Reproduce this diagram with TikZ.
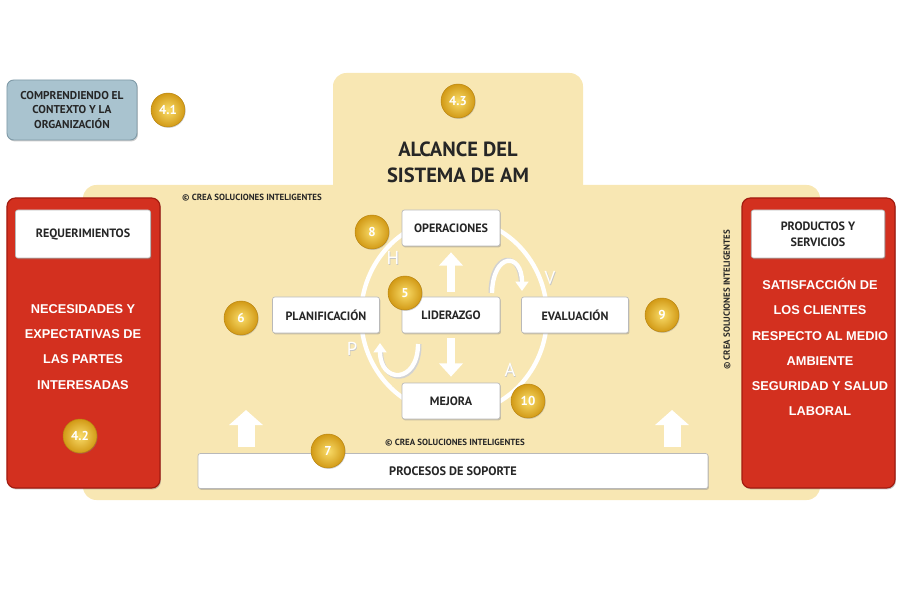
\documentclass[tikz,border=0pt]{standalone}
\usepackage{fontspec}
\setmainfont{PT Sans}
\newfontfamily\arialf{Liberation Sans}
\usetikzlibrary{shadows,arrows.meta}
\definecolor{beige}{HTML}{F8E7B3}
\definecolor{redbox}{HTML}{D3301F}
\definecolor{redline}{HTML}{A21C10}
\definecolor{bluebox}{HTML}{A9C3CF}
\definecolor{blueline}{HTML}{7F9AA7}
\definecolor{goldin}{HTML}{F9DC6A}
\definecolor{goldout}{HTML}{D29A16}
\definecolor{goldline}{HTML}{B98510}
\definecolor{txt}{HTML}{262626}
\begin{document}
\begin{tikzpicture}[x=0.3mm,y=-0.3mm,
  wbox/.style={draw=gray!55, fill=white, rounded corners=2pt, line width=0.6pt,
    drop shadow={shadow xshift=0.8pt,shadow yshift=-1.2pt,opacity=0.4},
    font=\bfseries\fontsize{10.3}{12}\selectfont, text=txt, inner sep=0pt, align=center},
  redpanel/.style={draw=redline, fill=redbox, rounded corners=2.5mm, line width=1pt,
    drop shadow={shadow xshift=0.8pt,shadow yshift=-1.2pt,opacity=0.45},
    minimum width=45.9mm, minimum height=87mm, inner sep=0pt},
  redtext/.style={text=white, font=\arialf\bfseries\fontsize{10.9}{21.5}\selectfont, align=center},
  badge/.style={circle, minimum size=10.2mm, inner sep=0pt, inner color=goldin, outer color=goldout,
    draw=goldline, line width=0.4pt, text=white, font=\bfseries\fontsize{11}{11}\selectfont,
    drop shadow={shadow xshift=0.6pt,shadow yshift=-0.8pt,opacity=0.35}},
  copyr/.style={font=\bfseries\fontsize{7.6}{8}\selectfont, text=txt},
  cyc/.style={text=white, font=\fontsize{16}{16}\selectfont},
  cycsh/.style={text=gray!45, font=\fontsize{16}{16}\selectfont},
  vertarr/.style={white, line width=2.4mm, -{Triangle[width=7mm,length=4mm]}},
  bigup/.style={white, line width=5.1mm, -{Triangle[width=9.9mm,length=4.5mm]}},
  curv/.style={white, line width=1.3mm, -{Triangle[width=3.8mm,length=2.8mm]}},
  curvsh/.style={gray!35, line width=1.3mm}
]
\useasboundingbox (0,0) rectangle (900,600);

% beige background
\fill[beige, rounded corners=4mm] (83,185) rectangle (820,500);
\fill[beige, rounded corners=4mm] (333,73) rectangle (583,200);
\fill[beige] (333,180) rectangle (583,200);

% cycle ellipse
\draw[white, line width=1.3mm] (454,316) ellipse [x radius=93, y radius=98];

% title
\node[font=\bfseries\fontsize{17.5}{22}\selectfont, text=txt, align=center] (title) at (458,162) {ALCANCE DEL\\SISTEMA DE AM};

% copyright marks
\node[copyr] (c1) at (252,198) {© CREA SOLUCIONES INTELIGENTES};
\node[copyr] (c2) at (455,443) {© CREA SOLUCIONES INTELIGENTES};
\node[copyr, rotate=90] (c3) at (727,300) {© CREA SOLUCIONES INTELIGENTES};

% top-left blue box
\node[draw=blueline, fill=bluebox, rounded corners=2mm, line width=0.8pt,
  drop shadow={shadow xshift=0.8pt,shadow yshift=-1.2pt,opacity=0.4},
  minimum width=39mm, minimum height=18mm, inner sep=0pt, align=center,
  font=\bfseries\fontsize{9.7}{12.75}\selectfont, text=txt] (ctx) at (72,110)
  {COMPRENDIENDO EL\\CONTEXTO Y LA\\ORGANIZACIÓN};

% red panels
\node[redpanel] (lpanel) at (83.5,343) {};
\node[redpanel] (rpanel) at (818.5,343) {};
\node[wbox, minimum width=40.5mm, minimum height=14.4mm] (req) at (83,234) {REQUERIMIENTOS};
\node[wbox, minimum width=40mm, minimum height=14.4mm, font=\bfseries\fontsize{10.3}{14}\selectfont] (prod) at (818,234) {PRODUCTOS Y\\SERVICIOS};
\node[redtext] (ltext) at (83,347) {NECESIDADES Y\\EXPECTATIVAS DE\\LAS PARTES\\INTERESADAS};
\node[redtext] (rtext) at (820,347) {SATISFACCIÓN DE\\LOS CLIENTES\\RESPECTO AL MEDIO\\AMBIENTE\\SEGURIDAD Y SALUD\\LABORAL};

% central boxes
\node[wbox, minimum width=29.4mm, minimum height=10.8mm] (ope) at (451,228) {OPERACIONES};
\node[wbox, minimum width=29.4mm, minimum height=10.8mm] (lid) at (451,315) {LIDERAZGO};
\node[wbox, minimum width=32.1mm, minimum height=10.8mm] (pla) at (326,315) {PLANIFICACIÓN};
\node[wbox, minimum width=32.1mm, minimum height=10.8mm] (eva) at (575,315) {EVALUACIÓN};
\node[wbox, minimum width=29.4mm, minimum height=10.8mm] (mej) at (451,401) {MEJORA};
\node[wbox, minimum width=153mm, minimum height=10.5mm, font=\bfseries\fontsize{10.5}{12}\selectfont] (sop) at (453,471) {PROCESOS DE SOPORTE};

% straight arrows from LIDERAZGO
\draw[vertarr, shorten <=1.5mm, shorten >=1.8mm] (lid.north) -- (ope.south);
\draw[vertarr, shorten <=1.5mm, shorten >=1.8mm] (lid.south) -- (mej.north);

% big up arrows
\coordinate (ua1) at (246,447);
\coordinate (ub1) at (246,410);
\coordinate (ua2) at (672,447);
\coordinate (ub2) at (672,410);
\draw[bigup] (ua1) -- (ub1);
\draw[bigup] (ua2) -- (ub2);

% curved arrows
\coordinate (t1) at (492,293);
\coordinate (t2) at (522,291);
\coordinate (b1) at (418,344);
\coordinate (b2) at (380,343);
\draw[curvsh] ([xshift=-0.4mm]t1) .. controls (491,252) and (520,250) .. (521,282);
\draw[curv] (t1) .. controls (493,252) and (522,252) .. (t2);
\draw[curvsh] ([xshift=0.4mm]b1) .. controls (420,386) and (381,386) .. (381,352);
\draw[curv] (b1) .. controls (418,384) and (380,384) .. (b2);

% cycle letters
\node[cycsh] at (393.6,258.6) {H};
\node[cyc] (lh) at (393,258) {H};
\node[cycsh] at (550.6,278.6) {V};
\node[cyc] (lv) at (550,278) {V};
\node[cycsh] at (352.6,349.6) {P};
\node[cyc] (lp) at (352,349) {P};
\node[cycsh] at (510.6,370.6) {A};
\node[cyc] (la) at (510,370) {A};

% badges
\node[badge] (b41) at (168,110) {4.1};
\node[badge] (b43) at (458,101) {4.3};
\node[badge] (b42) at (80,436) {4.2};
\node[badge] (b8) at (372,232) {8};
\node[badge] (b5) at (405,293) {5};
\node[badge] (b6) at (241,318) {6};
\node[badge] (b9) at (662,315) {9};
\node[badge] (b10) at (528,401) {10};
\node[badge] (b7) at (328,451) {7};
\end{tikzpicture}
\end{document}
